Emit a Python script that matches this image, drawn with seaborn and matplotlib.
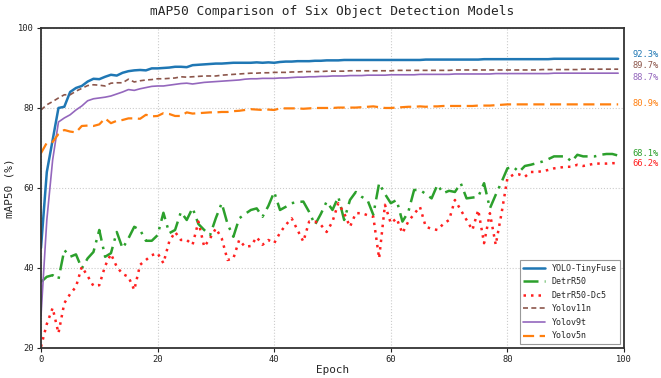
import numpy as np
import pandas as pd
import seaborn as sns
import matplotlib.pyplot as plt

epochs = np.arange(100)

yolo_tinyfuse = [45.0, 64.0, 72.0, 80.0, 80.3, 84.0, 85.0, 85.5, 86.6, 87.3,
                 87.2, 87.8, 88.3, 88.1, 88.8, 89.2, 89.4, 89.5, 89.4, 89.9,
                 89.9, 90.0, 90.1, 90.3, 90.3, 90.2, 90.7, 90.8, 90.9, 91.0,
                 91.1, 91.1, 91.2, 91.3, 91.3, 91.3, 91.3, 91.4, 91.3, 91.4,
                 91.3, 91.5, 91.6, 91.6, 91.7, 91.7, 91.7, 91.8, 91.8, 91.9,
                 91.9, 91.9, 92.0, 92.0, 92.0, 92.0, 92.0, 92.0, 92.0, 92.0,
                 92.0, 92.0, 92.0, 92.0, 92.0, 92.0, 92.1, 92.1, 92.1, 92.1,
                 92.1, 92.1, 92.1, 92.1, 92.1, 92.1, 92.2, 92.2, 92.2, 92.2,
                 92.2, 92.2, 92.2, 92.2, 92.2, 92.2, 92.2, 92.2, 92.3, 92.3,
                 92.3, 92.3, 92.3, 92.3, 92.3, 92.3, 92.3, 92.3, 92.3, 92.3]

detr_r50 = [36.5, 37.8, 38.2, 37.2, 44.5, 42.8, 43.4, 39.9, 42.4, 44.0,
            49.5, 42.8, 43.7, 49.0, 44.9, 47.4, 50.3, 49.5, 46.8, 46.8,
            48.2, 53.8, 48.7, 49.5, 54.0, 52.0, 55.0, 51.0, 49.5, 48.2,
            52.5, 56.2, 51.0, 47.8, 52.4, 53.5, 54.5, 54.9, 52.8, 55.5,
            59.0, 54.5, 55.3, 56.2, 56.5, 56.6, 54.0, 50.8, 53.5, 56.6,
            54.5, 57.8, 52.0, 57.0, 59.0, 57.8, 57.0, 53.3, 61.2, 58.5,
            56.2, 57.0, 51.6, 54.0, 59.5, 59.5, 58.5, 57.4, 60.8, 58.7,
            59.3, 59.0, 61.2, 57.4, 57.6, 57.8, 61.2, 54.9, 58.3, 61.5,
            64.9, 65.3, 64.0, 65.5, 65.8, 66.2, 66.6, 67.2, 67.9, 67.9,
            67.9, 66.6, 68.3, 67.9, 67.9, 67.9, 68.3, 68.5, 68.5, 68.1]

detr_r50_dc5 = [20.3, 26.0, 30.0, 23.7, 31.2, 33.5, 35.3, 40.3, 38.0, 35.5,
                35.7, 40.5, 43.5, 40.3, 38.5, 37.8, 34.5, 40.8, 42.0, 43.2,
                43.7, 41.2, 46.6, 49.0, 47.0, 47.0, 45.8, 51.6, 45.3, 47.4,
                49.9, 47.4, 42.0, 42.4, 47.0, 45.3, 45.5, 47.7, 45.8, 47.0,
                46.2, 48.8, 50.8, 52.4, 49.5, 46.6, 51.6, 51.6, 50.8, 49.0,
                51.6, 56.2, 53.7, 50.3, 53.7, 53.7, 53.2, 52.8, 42.4, 55.8,
                51.2, 52.4, 48.7, 51.6, 53.5, 55.3, 50.3, 49.8, 49.5, 51.0,
                52.0, 57.0, 54.5, 52.0, 49.5, 54.5, 46.2, 53.7, 45.8, 53.7,
                62.4, 63.3, 63.4, 62.8, 64.0, 64.0, 64.2, 64.5, 64.9, 65.1,
                65.3, 65.3, 65.8, 65.5, 65.8, 66.1, 66.1, 66.1, 66.2, 66.2]

yolov11n = [79.5, 80.8, 81.6, 82.5, 83.3, 83.3, 84.2, 84.9, 85.6, 85.8,
            85.7, 85.5, 86.2, 86.3, 86.3, 87.2, 86.5, 86.8, 87.0, 87.1,
            87.3, 87.3, 87.4, 87.5, 87.8, 87.7, 87.8, 87.9, 88.0, 88.0,
            88.0, 88.2, 88.3, 88.4, 88.5, 88.6, 88.7, 88.7, 88.8, 88.8,
            88.9, 88.9, 88.9, 89.0, 89.0, 89.1, 89.1, 89.1, 89.1, 89.2,
            89.2, 89.2, 89.2, 89.3, 89.3, 89.3, 89.3, 89.3, 89.3, 89.3,
            89.3, 89.4, 89.4, 89.4, 89.4, 89.4, 89.4, 89.4, 89.4, 89.4,
            89.4, 89.5, 89.5, 89.5, 89.5, 89.5, 89.5, 89.5, 89.5, 89.5,
            89.5, 89.5, 89.5, 89.5, 89.5, 89.5, 89.6, 89.6, 89.6, 89.6,
            89.6, 89.6, 89.6, 89.7, 89.7, 89.7, 89.7, 89.7, 89.7, 89.7]

yolov9t = [28.0, 52.0, 67.0, 76.5, 77.5, 78.3, 79.5, 80.5, 81.8, 82.3,
           82.5, 82.7, 83.0, 83.5, 84.0, 84.6, 84.4, 84.8, 85.1, 85.4,
           85.5, 85.5, 85.7, 85.9, 86.1, 86.2, 86.0, 86.2, 86.4, 86.5,
           86.6, 86.7, 86.8, 86.9, 87.0, 87.2, 87.3, 87.3, 87.4, 87.4,
           87.4, 87.5, 87.5, 87.6, 87.7, 87.7, 87.8, 87.8, 87.9, 87.9,
           88.0, 88.0, 88.0, 88.1, 88.1, 88.1, 88.2, 88.2, 88.2, 88.2,
           88.3, 88.3, 88.3, 88.3, 88.3, 88.4, 88.4, 88.4, 88.4, 88.4,
           88.4, 88.5, 88.5, 88.5, 88.5, 88.5, 88.5, 88.5, 88.6, 88.6,
           88.6, 88.6, 88.6, 88.6, 88.6, 88.6, 88.6, 88.6, 88.7, 88.7,
           88.7, 88.7, 88.7, 88.7, 88.7, 88.7, 88.7, 88.7, 88.7, 88.7]

yolov5n = [68.7, 71.3, 71.5, 73.5, 74.5, 74.1, 73.9, 75.5, 75.6, 75.5,
           75.9, 77.4, 76.2, 76.8, 77.0, 77.4, 77.4, 77.3, 78.3, 77.9,
           78.0, 78.7, 78.5, 78.0, 78.0, 78.9, 78.6, 78.7, 78.8, 78.9,
           78.9, 79.0, 79.0, 79.2, 79.3, 79.5, 79.7, 79.6, 79.5, 79.6,
           79.5, 79.9, 79.9, 79.9, 79.9, 79.8, 79.9, 80.0, 80.0, 80.0,
           80.0, 80.1, 80.1, 80.1, 80.1, 80.2, 80.3, 80.4, 80.2, 80.0,
           80.0, 80.1, 80.2, 80.3, 80.3, 80.4, 80.3, 80.4, 80.4, 80.5,
           80.5, 80.5, 80.5, 80.5, 80.5, 80.6, 80.6, 80.6, 80.7, 80.8,
           80.9, 80.9, 80.9, 80.9, 80.9, 80.9, 80.9, 80.9, 80.9, 80.9,
           80.9, 80.9, 80.9, 80.9, 80.9, 80.9, 80.9, 80.9, 80.9, 80.9]

model_names = ['YOLO-TinyFuse', 'DetrR50', 'DetrR50-Dc5', 'Yolov11n', 'Yolov9t', 'Yolov5n']
model_values = [yolo_tinyfuse, detr_r50, detr_r50_dc5, yolov11n, yolov9t, yolov5n]

# line styling per model
colors = ['#1f77b4', '#2ca02c', '#ff2020', '#8c564b', '#9467bd', '#ff7f0e']
styles = ['-', (0, (6, 2.5, 1, 2.5)), (0, (1, 2)), (0, (3, 2)), '-', (0, (5, 2.5))]
widths = [1.8, 1.8, 1.8, 1.2, 1.2, 1.6]
# small vertical nudges so end labels do not overlap
label_nudge = [0.95, 0.55, -0.2, 1.0, -1.0, 0.3]

sns.set_theme(style='whitegrid')
plt.rcParams['font.family'] = ['DejaVu Sans Mono', 'DejaVu Sans']

fig = plt.figure(figsize=(6.61, 3.78), dpi=100)
ax = fig.add_axes([0.062, 0.0794, 0.882, 0.8466])

for name, vals, c, ls, lw in zip(model_names, model_values, colors, styles, widths):
    df = pd.DataFrame({'Epoch': epochs, 'mAP50': vals})
    sns.lineplot(data=df, x='Epoch', y='mAP50', ax=ax, color=c, linestyle=ls,
                 linewidth=lw, label=name)

for vals, c, nudge in zip(model_values, colors, label_nudge):
    ax.text(1.015, vals[-1] + nudge, f'{vals[-1]:.1f}%', color=c, fontsize=6.3,
            va='center', ha='left', transform=ax.get_yaxis_transform())

ax.set_xlim(0, 100)
ax.set_ylim(20, 100)
ax.set_xticks(range(0, 101, 20))
ax.set_yticks(range(20, 101, 20))
ax.grid(True, linestyle=':', color='#cccccc', linewidth=0.8)
ax.tick_params(bottom=True, left=True, length=3, width=0.8, labelsize=6.3, pad=2,
               colors='#222222')
for sp in ax.spines.values():
    sp.set_color('#333333')
    sp.set_linewidth(1.3)

ax.set_xlabel('Epoch', fontsize=7.9, labelpad=1)
ax.set_ylabel('mAP50 (%)', fontsize=7.9, labelpad=3)
ax.set_title('mAP50 Comparison of Six Object Detection Models', fontsize=9.3, pad=9)

leg = ax.legend(loc='lower right', fontsize=6, fancybox=False, framealpha=1,
                edgecolor='#999999', handlelength=2.6, labelspacing=0.55,
                borderaxespad=0.5)
leg.get_frame().set_linewidth(0.8)

fig.savefig('out.png', dpi=100)
